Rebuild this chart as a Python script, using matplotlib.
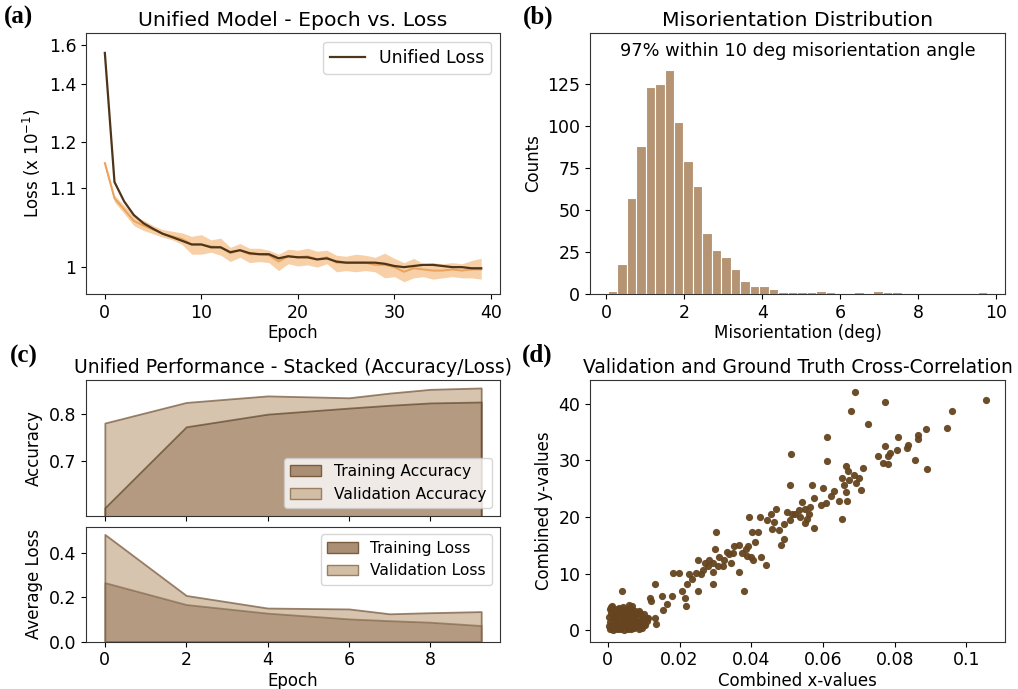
import numpy as np
import matplotlib
matplotlib.use('Agg')
import matplotlib.pyplot as plt

# (a) loss curves
epochs_a = list(range(40))
unified_loss = [1.555, 1.111, 1.078, 1.058, 1.047, 1.040, 1.034, 1.030, 1.026, 1.022,
                1.022, 1.019, 1.019, 1.014, 1.016, 1.013, 1.012, 1.012, 1.008, 1.010,
                1.009, 1.009, 1.007, 1.008, 1.005, 1.004, 1.004, 1.004, 1.004, 1.003,
                1.001, 1.000, 1.001, 1.002, 1.002, 1.001, 1.000, 1.000, 0.999, 0.999]
band_mean = [1.149, 1.083, 1.066, 1.050, 1.044, 1.039, 1.034, 1.031, 1.028, 1.022,
             1.022, 1.020, 1.019, 1.013, 1.016, 1.012, 1.012, 1.011, 1.005, 1.010,
             1.009, 1.010, 1.007, 1.009, 1.004, 1.004, 1.004, 1.004, 1.002, 1.002,
             1.000, 0.996, 0.999, 0.998, 0.997, 0.997, 0.998, 0.997, 0.998, 0.998]
band_hi = [1.156, 1.088, 1.072, 1.057, 1.051, 1.044, 1.039, 1.037, 1.035, 1.031,
           1.033, 1.027, 1.029, 1.019, 1.023, 1.018, 1.018, 1.016, 1.012, 1.017,
           1.016, 1.018, 1.015, 1.016, 1.011, 1.010, 1.012, 1.011, 1.009, 1.013,
           1.008, 1.004, 1.008, 1.003, 1.004, 1.003, 1.004, 1.003, 1.006, 1.008]
band_lo = [1.140, 1.077, 1.060, 1.044, 1.038, 1.034, 1.030, 1.027, 1.022, 1.012,
           1.012, 1.014, 1.011, 1.005, 1.009, 1.004, 1.005, 1.004, 0.997, 1.003,
           1.001, 1.002, 1.000, 1.003, 0.996, 0.997, 0.996, 0.997, 0.996, 0.991,
           0.992, 0.988, 0.991, 0.992, 0.990, 0.991, 0.992, 0.991, 0.991, 0.990]
loss_ticks = [1, 1.1, 1.2, 1.4, 1.6]
loss_tick_labels = ['1', '1.1', '1.2', '1.4', '1.6']

# (b) misorientation histogram
bin_edges = np.linspace(0.03, 9.77, 41)
counts = [2, 18, 57, 88, 123, 125, 133, 102, 79, 64,
          36, 26, 22, 15, 8, 5, 5, 3, 1, 1,
          1, 1, 2, 1, 0, 0, 1, 0, 2, 1,
          1, 0, 0, 0, 0, 0, 0, 0, 0, 1]

# (c) stacked accuracy / loss
epochs_c = [0, 2, 4, 6, 7, 8, 9.25]
train_acc = [0.600, 0.773, 0.800, 0.813, 0.819, 0.824, 0.826]
val_acc = [0.781, 0.825, 0.839, 0.835, 0.845, 0.853, 0.856]
train_loss = [0.267, 0.168, 0.129, 0.103, 0.095, 0.088, 0.073]
val_loss = [0.485, 0.209, 0.152, 0.148, 0.126, 0.131, 0.136]

# (d) scatter
scatter_x = [0.1055, 0.0959, 0.0946, 0.0887, 0.0890, 0.0857, 0.0866, 0.0865, 0.0836, 0.0833,
             0.0810, 0.0805, 0.0787, 0.0782, 0.0772, 0.0767, 0.0780, 0.0753, 0.0774, 0.0725,
             0.0689, 0.0678, 0.0612, 0.0612, 0.0706, 0.0711, 0.0701, 0.0692, 0.0687, 0.0673,
             0.0664, 0.0669, 0.0659, 0.0654, 0.0664, 0.0667, 0.0645, 0.0654, 0.0631, 0.0621,
             0.0607, 0.0593, 0.0600, 0.0569, 0.0574, 0.0565, 0.0560, 0.0551, 0.0541, 0.0537,
             0.0532, 0.0523, 0.0508, 0.0513, 0.0510, 0.0507, 0.0499, 0.0490, 0.0556, 0.0574,
             0.0549, 0.0490, 0.0478, 0.0469, 0.0463, 0.0459, 0.0482, 0.0456, 0.0443, 0.0424,
             0.0419, 0.0410, 0.0401, 0.0395, 0.0391, 0.0386, 0.0400, 0.0388, 0.0375, 0.0405,
             0.0428, 0.0440, 0.0379, 0.0367, 0.0365, 0.0353, 0.0348, 0.0339, 0.0344, 0.0331,
             0.0325, 0.0320, 0.0311, 0.0303, 0.0306, 0.0299, 0.0292, 0.0294, 0.0292, 0.0282,
             0.0278, 0.0271, 0.0264, 0.0259, 0.0252, 0.0247, 0.0252, 0.0234, 0.0226, 0.0220,
             0.0207, 0.0215, 0.0217, 0.0198, 0.0181, 0.0179, 0.0165, 0.0151, 0.0155, 0.0132,
             0.0132, 0.0134, 0.0118, 0.0120, 0.0102, 0.0108, 0.0040,
             # dense cluster near the origin
             0.0005, 0.0015, 0.0026, 0.0034, 0.0046, 0.0055, 0.0066, 0.0074, 0.0086, 0.0096,
             0.0003, 0.0012, 0.0023, 0.0031, 0.0043, 0.0052, 0.0061, 0.0073, 0.0082, 0.0093, 0.0104,
             0.0006, 0.0017, 0.0027, 0.0038, 0.0047, 0.0058, 0.0067, 0.0078, 0.0088, 0.0099, 0.0110,
             0.0004, 0.0014, 0.0024, 0.0035, 0.0044, 0.0054, 0.0065, 0.0074, 0.0086, 0.0097, 0.0112,
             0.0008, 0.0018, 0.0029, 0.0038, 0.0049, 0.0058, 0.0069, 0.0079, 0.0090, 0.0101,
             0.0005, 0.0015, 0.0025, 0.0036, 0.0046, 0.0056, 0.0064, 0.0075, 0.0087,
             0.0012, 0.0041, 0.0058, 0.0067, 0.0021, 0.0050, 0.0030, 0.0009]
scatter_y = [40.6, 38.7, 35.8, 35.5, 28.5, 30.0, 34.5, 33.7, 32.8, 32.2,
             34.1, 31.8, 31.3, 30.7, 32.5, 29.6, 29.4, 30.7, 40.3, 36.4,
             42.1, 38.7, 34.1, 29.9, 24.8, 28.7, 26.9, 26.0, 27.5, 26.6,
             29.0, 28.1, 25.6, 26.9, 24.4, 22.8, 22.9, 19.7, 24.6, 23.8,
             22.4, 22.1, 25.2, 25.6, 23.3, 21.8, 20.6, 21.5, 22.7, 20.0,
             21.2, 20.6, 25.6, 20.6, 31.2, 19.4, 20.9, 18.8, 19.7, 18.0,
             18.9, 16.2, 17.7, 21.5, 19.2, 17.9, 15.1, 20.6, 19.4, 20.0,
             17.3, 15.6, 17.4, 20.0, 14.9, 14.3, 13.0, 13.1, 13.7, 12.5,
             13.0, 11.5, 6.9, 15.1, 10.3, 14.9, 13.7, 13.4, 11.9, 13.9,
             12.5, 11.3, 13.0, 17.3, 11.3, 14.3, 11.9, 10.3, 8.2, 12.5,
             11.3, 11.9, 10.6, 9.9, 12.5, 10.1, 6.9, 9.1, 10.0, 8.2,
             6.9, 5.7, 4.3, 10.1, 10.1, 6.0, 4.7, 6.0, 3.6, 8.1,
             2.1, 1.2, 5.7, 5.1, 0.9, 2.1, 6.9,
             0.2, 0.1, 0.3, 0.2, 0.1, 0.3, 0.2, 0.4, 0.3, 0.5,
             0.8, 0.9, 0.7, 0.8, 0.9, 0.7, 0.8, 0.9, 0.8, 0.7, 0.9,
             1.5, 1.6, 1.4, 1.5, 1.6, 1.4, 1.5, 1.6, 1.5, 1.4, 1.6,
             2.3, 2.2, 2.4, 2.3, 2.2, 2.4, 2.3, 2.2, 2.4, 2.3, 2.2,
             3.0, 3.1, 2.9, 3.0, 3.1, 2.9, 3.0, 2.9, 3.0, 2.8,
             3.7, 3.6, 3.8, 3.7, 3.6, 3.8, 3.7, 3.5, 3.4,
             4.3, 4.2, 4.4, 4.3, 0.5, 1.9, 4.0, 4.1]

dark = '#4e3419'
tan = '#b59473'

fig = plt.figure(figsize=(10.18, 6.89), dpi=100)
ax_a = fig.add_axes([0.0845, 0.5733, 0.4067, 0.3788])
ax_b = fig.add_axes([0.5796, 0.5733, 0.4077, 0.3788])
ax_c1 = fig.add_axes([0.0845, 0.2515, 0.4067, 0.1970])
ax_c2 = fig.add_axes([0.0845, 0.0687, 0.4067, 0.1669], sharex=ax_c1)
ax_d = fig.add_axes([0.5796, 0.0687, 0.4077, 0.3798])

tick_fs = 12.5
lab_fs = 12

# --- (a) ---
ax_a.set_yscale('function', functions=(lambda y: np.log(np.maximum(y - 0.9, 1e-6)),
                                       lambda v: np.exp(v) + 0.9))
ax_a.fill_between(epochs_a, band_lo, band_hi, color='#f4b77a', alpha=0.65, linewidth=0)
ax_a.plot(epochs_a, band_mean, color='#eaa35a', lw=1.4)
ax_a.plot(epochs_a, unified_loss, color=dark, lw=1.6, label='Unified Loss')
ax_a.set_ylim(0.979, 1.68)
ax_a.set_yticks(loss_ticks)
ax_a.set_yticklabels(loss_tick_labels)
ax_a.yaxis.set_minor_locator(matplotlib.ticker.NullLocator())
ax_a.set_xticks([0, 10, 20, 30, 40])
ax_a.set_xlabel('Epoch', fontsize=lab_fs, labelpad=2)
ax_a.set_ylabel('Loss (x 10$^{-1}$)', fontsize=lab_fs)
ax_a.set_title('Unified Model - Epoch vs. Loss', fontsize=14.7, pad=5)
ax_a.legend(loc='upper right', fontsize=12.5)

# --- (b) ---
ax_b.bar(bin_edges[:-1], counts, width=np.diff(bin_edges), align='edge',
         color=tan, edgecolor='white', linewidth=0.8)
ax_b.set_xlim(-0.42, 10.23)
ax_b.set_ylim(0, 155)
ax_b.set_yticks([0, 25, 50, 75, 100, 125])
ax_b.set_xticks([0, 2, 4, 6, 8, 10])
ax_b.set_xlabel('Misorientation (deg)', fontsize=lab_fs, labelpad=2)
ax_b.set_ylabel('Counts', fontsize=lab_fs)
ax_b.set_title('Misorientation Distribution', fontsize=14.7, pad=5)
ax_b.text(0.5, 0.93, '97% within 10 deg misorientation angle', transform=ax_b.transAxes,
          ha='center', va='center', fontsize=12.8)

# --- (c) ---
val_c = '#c9b194'
train_c = '#9d7f62'
ax_c1.fill_between(epochs_c, 0, val_acc, color=val_c, alpha=0.75,
                   edgecolor='#7a5c40', linewidth=1.3)
ax_c1.fill_between(epochs_c, 0, train_acc, color=train_c, alpha=0.6,
                   edgecolor=dark, linewidth=1.3)
ax_c1.set_ylim(0.583, 0.873)
ax_c1.set_yticks([0.7, 0.8])
ax_c1.set_ylabel('Accuracy', fontsize=lab_fs)
ax_c1.tick_params(labelbottom=False)
ax_c1.set_title('Unified Performance - Stacked (Accuracy/Loss)', fontsize=13.5, pad=5)
h_train = matplotlib.patches.Patch(facecolor='#ab8f75', edgecolor='#7a5c40', label='Training Accuracy')
h_val = matplotlib.patches.Patch(facecolor='#d2bda5', edgecolor='#9a7e62', label='Validation Accuracy')
ax_c1.legend(handles=[h_train, h_val], loc='lower right', fontsize=11.2)

ax_c2.fill_between(epochs_c, 0, val_loss, color=val_c, alpha=0.75,
                   edgecolor='#7a5c40', linewidth=1.3)
ax_c2.fill_between(epochs_c, 0, train_loss, color=train_c, alpha=0.6,
                   edgecolor='#7a5c40', linewidth=1.3)
ax_c2.set_ylim(0, 0.52)
ax_c2.set_yticks([0.0, 0.2, 0.4])
ax_c2.set_xticks([0, 2, 4, 6, 8])
ax_c2.set_xlabel('Epoch', fontsize=lab_fs, labelpad=2)
ax_c2.set_ylabel('Average Loss', fontsize=lab_fs)
h_tl = matplotlib.patches.Patch(facecolor='#ab8f75', edgecolor='#7a5c40', label='Training Loss')
h_vl = matplotlib.patches.Patch(facecolor='#d2bda5', edgecolor='#9a7e62', label='Validation Loss')
ax_c2.legend(handles=[h_tl, h_vl], loc='upper right', fontsize=11.2)

# --- (d) ---
ax_d.scatter(scatter_x, scatter_y, s=27, color='#65441f', alpha=0.95, linewidths=0)
ax_d.set_xticks([0, 0.02, 0.04, 0.06, 0.08, 0.1])
ax_d.set_xticklabels(['0', '0.02', '0.04', '0.06', '0.08', '0.1'])
ax_d.set_yticks([0, 10, 20, 30, 40])
ax_d.set_xlabel('Combined x-values', fontsize=lab_fs, labelpad=2)
ax_d.set_ylabel('Combined y-values', fontsize=lab_fs)
ax_d.set_title('Validation and Ground Truth Cross-Correlation', fontsize=13.5, pad=5)

for ax in [ax_a, ax_b, ax_c1, ax_c2, ax_d]:
    ax.tick_params(labelsize=tick_fs)
    for s in ax.spines.values():
        s.set_color('#333333')

# panel letters
for lbl, x, y in [('(a)', 0.004, 0.992), ('(b)', 0.514, 0.992),
                  ('(c)', 0.010, 0.500), ('(d)', 0.513, 0.502)]:
    fig.text(x, y, lbl, fontsize=18, fontweight='bold', family='Liberation Serif',
             ha='left', va='top')

fig.savefig('out.png', dpi=100)
